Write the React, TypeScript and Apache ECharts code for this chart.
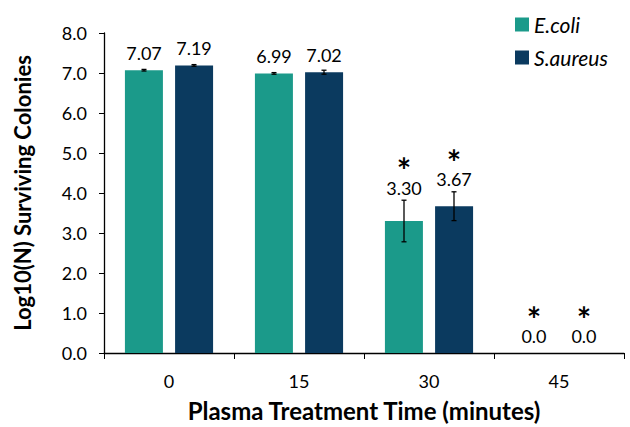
import React, { useEffect, useRef } from "react";
import * as echarts from "echarts";

const categories = ["0", "15", "30", "45"];
const ecoliValues = [7.07, 6.99, 3.3, 0.0];
const saureusValues = [7.19, 7.02, 3.67, 0.0];
const ecoliErrors = [0.02, 0.02, 0.52, 0];
const saureusErrors = [0.02, 0.05, 0.36, 0];
const ecoliStars = [false, false, true, true];
const saureusStars = [false, false, true, true];
const yTicks = ["0.0", "1.0", "2.0", "3.0", "4.0", "5.0", "6.0", "7.0", "8.0"];

const TEAL = "#1b9a8a";
const NAVY = "#0b3a5f";
const FONT = "Lato, 'Noto Sans', sans-serif";

function makeErr(values: number[], errs: number[], stars: boolean[], dir: number) {
  return {
    type: "custom",
    data: values.map((v, i) => [i, v, errs[i], stars[i] ? 1 : 0]),
    z: 10,
    renderItem: (params: any, api: any) => {
      const i = api.value(0);
      const v = api.value(1);
      const e = api.value(2);
      const star = api.value(3);
      const band = api.size([1, 0])[0];
      const off = (band * 25) / 130 * dir;
      const c = api.coord([i, v]);
      const x = c[0] + off;
      const barTop = c[1];
      const top = api.coord([i, v + e])[1];
      const bot = api.coord([i, v - e])[1];
      const anchor = Math.min(top - 3.5, barTop - 8);
      const children: any[] = [];
      const st = { stroke: "#000", lineWidth: 1.3 };
      if (e > 0) {
        children.push({ type: "line", shape: { x1: x, y1: top, x2: x, y2: bot }, style: st });
        children.push({ type: "line", shape: { x1: x - 2.5, y1: top, x2: x + 2.5, y2: top }, style: st });
        children.push({ type: "line", shape: { x1: x - 2.5, y1: bot, x2: x + 2.5, y2: bot }, style: st });
      }
      children.push({
        type: "text",
        style: {
          text: v.toFixed(v === 0 ? 1 : 2),
          x,
          y: anchor,
          align: "center",
          verticalAlign: "bottom",
          fontSize: 18,
          lineHeight: 18,
          fontFamily: FONT,
          fill: "#000",
        },
      });
      if (star) {
        children.push({
          type: "text",
          style: {
            text: "*",
            x,
            y: anchor - 27,
            align: "center",
            verticalAlign: "middle",
            fontSize: 34,
            lineHeight: 16,
            fontWeight: "bold",
            fontFamily: FONT,
            fill: "#000",
          },
        });
      }
      return { type: "group", children };
    },
  };
}

export default function App() {
  const ref = useRef<HTMLDivElement>(null);
  useEffect(() => {
    document.body.style.margin = "0";
    if (!ref.current) return;
    const chart = echarts.init(ref.current, undefined, { renderer: "svg" });
    chart.setOption({
      animation: false,
      textStyle: { fontFamily: FONT },
      grid: { left: 104, right: 6, top: 33, bottom: 69 },
      legend: {
        orient: "vertical",
        left: 510,
        top: 9,
        itemWidth: 14,
        itemHeight: 14,
        itemGap: 12,
        icon: "rect",
        textStyle: { fontSize: 21, fontStyle: "italic", fontFamily: FONT, color: "#000" },
        data: ["E.coli", "S.aureus"],
      },
      xAxis: {
        type: "category",
        data: categories,
        name: "Plasma Treatment Time (minutes)",
        nameLocation: "middle",
        nameGap: 45,
        nameTextStyle: { fontSize: 24, fontWeight: "bold", color: "#000", fontFamily: FONT },
        axisLine: { lineStyle: { color: "#000", width: 1.3 } },
        axisTick: { show: true, length: 6, lineStyle: { color: "#000" } },
        axisLabel: { fontSize: 18, color: "#000", margin: 19, fontFamily: FONT },
      },
      yAxis: {
        type: "value",
        min: 0,
        max: 8,
        interval: 1,
        name: "Log10(N) Surviving Colonies",
        nameLocation: "middle",
        nameGap: 71,
        nameTextStyle: { fontSize: 22, fontWeight: "bold", color: "#000", fontFamily: FONT },
        axisLine: { show: true, lineStyle: { color: "#000", width: 1.3 } },
        axisTick: { show: true, length: 5, lineStyle: { color: "#000" } },
        splitLine: { show: false },
        axisLabel: {
          fontSize: 18,
          color: "#000",
          margin: 17,
          fontFamily: FONT,
          formatter: (v: number) => yTicks[Math.round(v)] ?? v.toFixed(1),
        },
      },
      series: [
        {
          name: "E.coli",
          type: "bar",
          data: ecoliValues,
          barWidth: 38,
          barGap: "32%",
          itemStyle: { color: TEAL },
        },
        {
          name: "S.aureus",
          type: "bar",
          data: saureusValues,
          barWidth: 38,
          barGap: "32%",
          itemStyle: { color: NAVY },
        },
        makeErr(ecoliValues, ecoliErrors, ecoliStars, -1),
        makeErr(saureusValues, saureusErrors, saureusStars, 1),
      ],
    });
    return () => chart.dispose();
  }, []);
  return <div ref={ref} style={{ width: 630, height: 427 }} />;
}
